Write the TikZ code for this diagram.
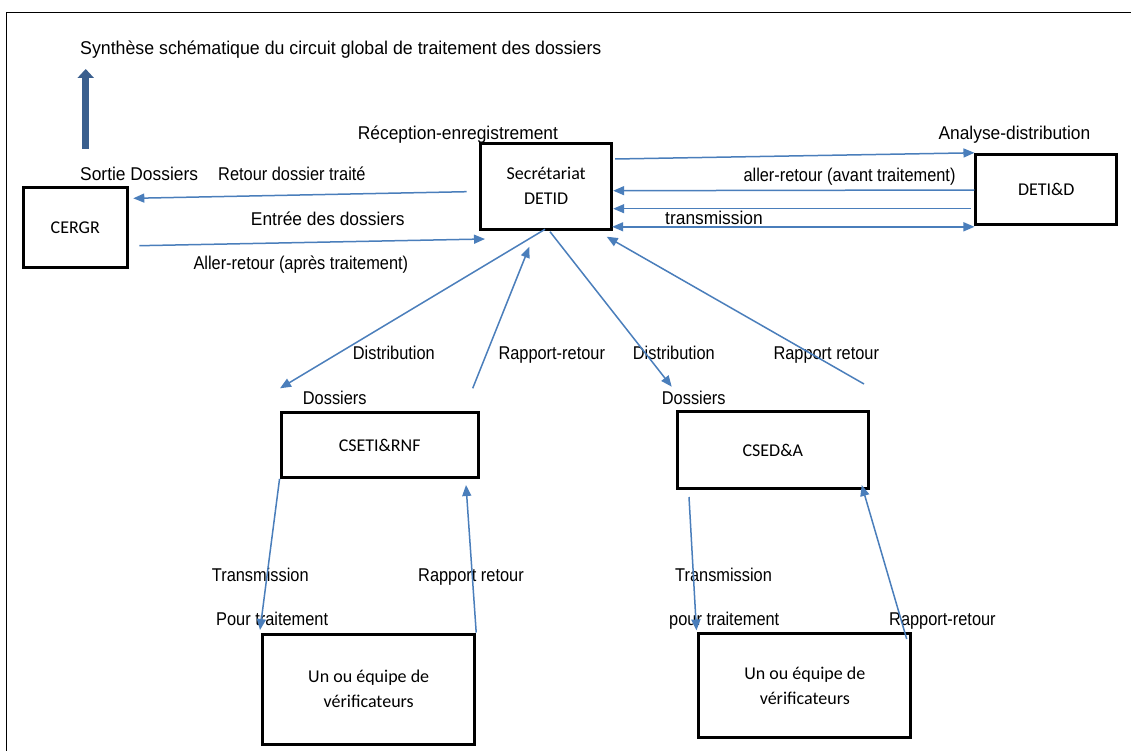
\documentclass[tikz,border=0pt]{standalone}
\usepackage{fontspec}
\setmainfont{Liberation Sans}
\newfontfamily\labf[FakeStretch=0.94]{Liberation Sans}
\newfontfamily\labn[FakeStretch=0.885]{Liberation Sans}
\newfontfamily\labt[FakeStretch=0.96]{Liberation Sans}
\newfontfamily\boxf{Carlito}
\usetikzlibrary{arrows.meta,calc}
\definecolor{arr}{HTML}{4A7EBB}
\definecolor{thickarr}{HTML}{3A5F8E}
\begin{document}
\begin{tikzpicture}[x=1pt,y=-1pt,
  lbl/.style={anchor=base west,inner sep=0pt,font=\labf\fontsize{18.5}{20}\selectfont},
  lbln/.style={lbl,font=\labn\fontsize{18.5}{20}\selectfont},
  bx/.style={draw,line width=3pt,inner sep=0pt,align=center,font=\boxf\fontsize{18}{25}\selectfont},
  conn/.style={draw=arr,line width=1.5pt,-{Triangle[length=11pt,width=9pt]}}
]
\useasboundingbox (0,0) rectangle (1131,751);
\fill[white] (0,0) rectangle (1131,751);
% frame
\draw[line width=1.4pt] (6.7,751) -- (6.7,12.7) -- (1131,12.7);

% boxes
\node[bx,minimum width=104pt,minimum height=80pt] (cergr) at (75.3,227.3) {CERGR};
\node[bx,minimum width=131pt,minimum height=86pt] (sec) at (546.2,186.3) {Secrétariat\\DETID};
\node[bx,minimum width=140.7pt,minimum height=70pt] (deti) at (1046.3,189.3) {DETI\&D};
\node[bx,minimum width=197.3pt,minimum height=64.6pt] (cseti) at (379.7,445) {CSETI\&RNF};
\node[bx,minimum width=191pt,minimum height=76.6pt] (csed) at (772.8,450) {CSED\&A};
\node[bx,minimum width=212pt,minimum height=110pt] (ver1) at (368.7,689) {Un ou équipe de\\vérificateurs};
\node[bx,minimum width=211.7pt,minimum height=103.7pt] (ver2) at (804.8,685.8) {Un ou équipe de\\vérificateurs};

% labels
\node[lbl,font=\labt\fontsize{18.5}{20}\selectfont] (title) at (80,54.8) {Synthèse schématique du circuit global de traitement des dossiers};
\node[lbl] (lrec) at (357.7,139.5) {Réception-enregistrement};
\node[lbl] (lsortie) at (80,180.5) {Sortie Dossiers};
\node[lbln] (lretour) at (218,180.5) {Retour dossier traité};
\node[lbl] (lentree) at (250.7,225.8) {Entrée des dossiers};
\node[lbln] (lallerA) at (193.3,269.8) {Aller-retour (après traitement)};
\node[lbl] (lana) at (938.3,139.8) {Analyse-distribution};
\node[lbln] (lallerB) at (743.3,181.5) {aller-retour (avant traitement)};
\node[lbl] (ltrans) at (665,225) {transmission};
\node[lbln] (ldistL) at (352.7,359.2) {Distribution};
\node[lbln] (lrappL) at (498.3,359.2) {Rapport-retour};
\node[lbln] (ldistR) at (632.7,359.2) {Distribution};
\node[lbln] (lrappR) at (773.3,359.2) {Rapport retour};
\node[lbln] (ldosL) at (302.7,404) {Dossiers};
\node[lbln] (ldosR) at (661.7,404) {Dossiers};
\node[lbln] (ltransL) at (211.7,581.5) {Transmission};
\node[lbln] (lrapp2L) at (418,581.5) {Rapport retour};
\node[lbln] (lpourL) at (216,625.5) {Pour traitement};
\node[lbln] (ltransR) at (675,581.5) {Transmission};
\node[lbln] (lpourR) at (669,625.5) {pour traitement};
\node[lbln] (lrapp2R) at (889,625.5) {Rapport-retour};

% free connector ends
\coordinate (upA) at (85.7,149);
\coordinate (upB) at (85.7,69);
\coordinate (retA) at (466.7,191.7);
\coordinate (retB) at (133.3,198.3);
\coordinate (entA) at (139.3,245.7);
\coordinate (entB) at (485,239);
\coordinate (dlA) at (545,229.3);
\coordinate (dlB) at (280,388.3);
\coordinate (rlA) at (472.7,388.3);
\coordinate (rlB) at (529.3,246.7);
\coordinate (drA) at (550,231.7);
\coordinate (drB) at (671.7,386.7);
\coordinate (rrA) at (864,384);
\coordinate (rrB) at (606.7,236.7);
\coordinate (tlB) at (260,630);
\coordinate (blB) at (466,485);
\coordinate (trA) at (689,497);
\coordinate (brA) at (906.7,639);
\coordinate (brB) at (861.7,485);

% thick arrow
\draw[thickarr,line width=7pt,-{Triangle[length=9pt,width=16pt]}] (upA) -- (upB);

% connectors
\draw[conn] (retA) -- (retB);
\draw[conn] (entA) -- (entB);
\draw[conn] ([xshift=2pt,yshift=27.3pt]sec.east) -- (deti.north west);
\draw[conn] ([yshift=-0.7pt]deti.west) -- ([yshift=-4.4pt]sec.east);
\draw[conn] ([xshift=-3.3pt,yshift=-19.4pt]deti.west) -- ([yshift=-22.4pt]sec.east);
\draw[draw=arr,line width=1.5pt,{Triangle[length=11pt,width=9pt]}-{Triangle[length=11pt,width=9pt]}] ([xshift=-1pt,yshift=4pt]sec.south east) -- ([yshift=-1pt]deti.south west);
\draw[conn] (dlA) -- (dlB);
\draw[conn] (rlA) -- (rlB);
\draw[conn] (drA) -- (drB);
\draw[conn] (rrA) -- (rrB);
\draw[conn] (cseti.south west) -- (tlB);
\draw[conn] (ver1.north east) -- (blB);
\draw[conn] (trA) -- ([xshift=-1pt,yshift=2pt]ver2.north west);
\draw[conn] (brA) -- (brB);
\end{tikzpicture}
\end{document}
